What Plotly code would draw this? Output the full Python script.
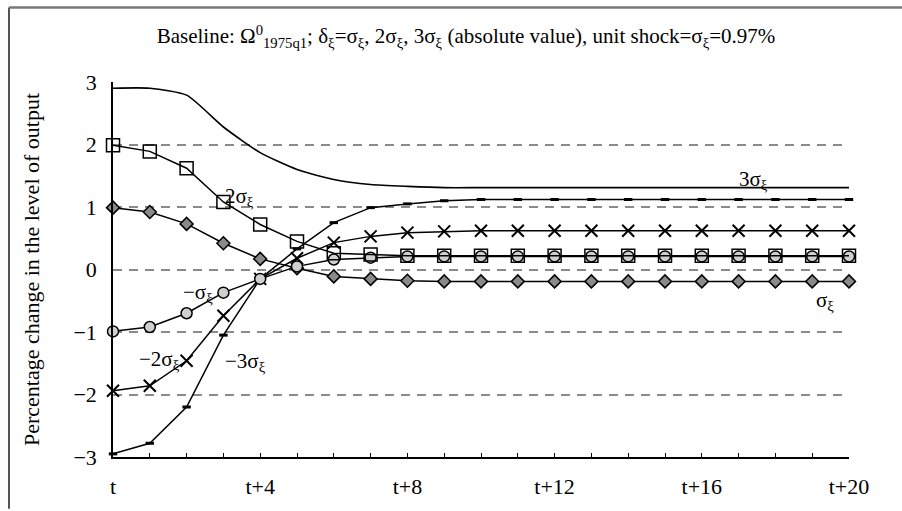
import plotly.graph_objects as go

periods = list(range(21))
tick_vals = list(range(21))
tick_text = ["t" if i == 0 else ("t+%d" % i if i % 4 == 0 else "") for i in range(21)]

pos3 = [2.90, 2.90, 2.79, 2.28, 1.87, 1.60, 1.44, 1.36, 1.33, 1.31, 1.31, 1.31, 1.31, 1.31, 1.31, 1.31, 1.31, 1.31, 1.31, 1.31, 1.31]
pos2 = [1.99, 1.89, 1.62, 1.08, 0.72, 0.45, 0.26, 0.24, 0.22, 0.22, 0.22, 0.22, 0.22, 0.22, 0.22, 0.22, 0.22, 0.22, 0.22, 0.22, 0.22]
pos1 = [0.99, 0.92, 0.73, 0.42, 0.17, 0.02, -0.11, -0.15, -0.18, -0.19, -0.19, -0.19, -0.19, -0.19, -0.19, -0.19, -0.19, -0.19, -0.19, -0.19, -0.19]
neg1 = [-0.99, -0.92, -0.70, -0.37, -0.15, 0.05, 0.16, 0.19, 0.21, 0.21, 0.21, 0.21, 0.21, 0.21, 0.21, 0.21, 0.21, 0.21, 0.21, 0.21, 0.21]
neg2 = [-1.94, -1.86, -1.46, -0.74, -0.15, 0.18, 0.43, 0.53, 0.59, 0.61, 0.62, 0.62, 0.62, 0.62, 0.62, 0.62, 0.62, 0.62, 0.62, 0.62, 0.62]
neg3 = [-2.95, -2.78, -2.20, -1.05, -0.15, 0.33, 0.75, 0.99, 1.05, 1.10, 1.12, 1.12, 1.12, 1.12, 1.12, 1.12, 1.12, 1.12, 1.12, 1.12, 1.12]

labels = ["3σ<sub>ξ</sub>", "2σ<sub>ξ</sub>", "σ<sub>ξ</sub>", "−σ<sub>ξ</sub>", "−2σ<sub>ξ</sub>", "−3σ<sub>ξ</sub>"]
label_x = [17.4, 3.45, 19.35, 2.3, 1.25, 3.6]
label_y = [1.44, 1.16, -0.51, -0.37, -1.44, -1.48]

SERIF = "Liberation Serif"
LINE = dict(color="black", width=1.5)

fig = go.Figure()
fig.add_trace(go.Scatter(x=periods, y=pos3, mode="lines", line=dict(color="black", width=1.6, shape="spline", smoothing=0.6), cliponaxis=False))
fig.add_trace(go.Scatter(x=periods, y=neg3, mode="lines+markers", line=LINE,
                         marker=dict(symbol="line-ew-open", size=6, line=dict(color="black", width=3)), cliponaxis=False))
fig.add_trace(go.Scatter(x=periods, y=neg2, mode="lines+markers", line=LINE,
                         marker=dict(symbol="x-thin-open", size=12, line=dict(color="black", width=2)), cliponaxis=False))
fig.add_trace(go.Scatter(x=periods, y=pos1, mode="lines+markers", line=LINE,
                         marker=dict(symbol="diamond", size=10, color="#8a8a8a", line=dict(color="black", width=1.5)), cliponaxis=False))
fig.add_trace(go.Scatter(x=periods, y=neg1, mode="lines+markers", line=LINE,
                         marker=dict(symbol="circle", size=11, color="#cfcfcf", line=dict(color="black", width=1.5)), cliponaxis=False))
fig.add_trace(go.Scatter(x=periods, y=pos2, mode="lines+markers", line=LINE,
                         marker=dict(symbol="square-open", size=13, line=dict(color="black", width=1.5)), cliponaxis=False))

for t, lx, ly in zip(labels, label_x, label_y):
    fig.add_annotation(x=lx, y=ly, text=t, showarrow=False, font=dict(family=SERIF, size=21, color="black"))

# outer frame (left and top edges)
L, R, T, B = 113, 849, 82, 459
W, H = R - L, B - T
def px(x):
    return (x - L) / W
def py(y):
    return (B - y) / H
fig.add_shape(type="line", xref="paper", yref="paper", x0=px(9), x1=px(9), y0=py(7), y1=py(511),
              line=dict(color="#555", width=2))
fig.add_shape(type="line", xref="paper", yref="paper", x0=px(9), x1=px(902), y0=py(7), y1=py(7),
              line=dict(color="#777", width=2.5))

fig.update_layout(
    width=902, height=511,
    margin=dict(l=L, r=902 - R, t=T, b=511 - B),
    paper_bgcolor="white", plot_bgcolor="white",
    showlegend=False,
    font=dict(family=SERIF, size=20, color="black"),
    title=dict(text="Baseline: Ω<sup>0</sup><sub>1975q1</sub>; δ<sub>ξ</sub>=σ<sub>ξ</sub>, 2σ<sub>ξ</sub>, 3σ<sub>ξ</sub> (absolute value), unit shock=σ<sub>ξ</sub>=0.97%",
               x=(466 / 902), xanchor="center", y=1 - 36 / 511, yanchor="middle",
               font=dict(family=SERIF, size=21, color="black")),
    xaxis=dict(range=[0, 20], tickvals=tick_vals, ticktext=tick_text, ticks="inside", ticklen=4,
               tickcolor="black", tickwidth=1, showline=True, linecolor="black", linewidth=1.5,
               showgrid=False, zeroline=False, ticklabelstandoff=9,
               tickfont=dict(family=SERIF, size=22)),
    yaxis=dict(range=[-3, 3], tickvals=[-3, -2, -1, 0, 1, 2, 3], ticks="", showline=True,
               linecolor="black", linewidth=1.5, showgrid=True, gridcolor="#8a8a8a", gridwidth=1.5,
               griddash="9px,7px", zeroline=False, ticklabelstandoff=10,
               tickfont=dict(family=SERIF, size=22),
               title=dict(text="Percentage change in the level of output", font=dict(family=SERIF, size=22), standoff=28)),
)

fig.write_html("out.html")
